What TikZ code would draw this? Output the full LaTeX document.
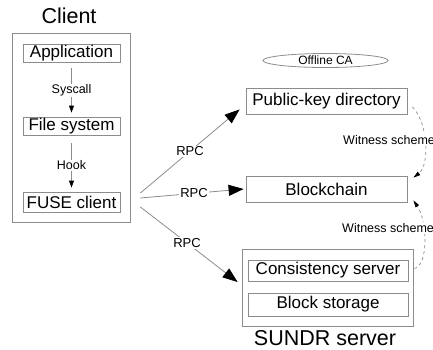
\documentclass[tikz,border=0pt]{standalone}
\usepackage{fontspec}
\setmainfont{Liberation Sans}
\usetikzlibrary{arrows.meta,shapes.geometric}
\definecolor{edge}{HTML}{8C8C8C}
\tikzset{
  box/.style={draw=edge, line width=0.8pt, inner sep=0pt, font=\fontsize{17}{19}\selectfont},
  title/.style={font=\fontsize{21.5}{24}\selectfont, inner sep=0pt},
  small/.style={font=\fontsize{12.5}{14}\selectfont, inner sep=1pt},
  lbl/.style={small, fill=white},
  flow/.style={draw=edge, line width=0.8pt, -{Triangle[length=7pt,width=5pt,color=black,fill=black]}},
  rpc/.style={draw=edge, line width=0.8pt, -{Triangle[length=15pt,width=11pt,color=black,fill=black]}},
  wit/.style={draw=edge, line width=0.7pt, dashed, -{Triangle[length=7pt,width=4pt,color=black,fill=black]}},
}
\begin{document}
\begin{tikzpicture}[x=1pt,y=-1pt]
\useasboundingbox (0,0) rectangle (433,349);
% Client side
\node[box, minimum width=118pt, minimum height=189pt] (client) at (71,127.5) {};
\node[title] (clientT) at (69,16) {Client};
\node[box, minimum width=97pt, minimum height=18pt] (app) at (71.5,53) {Application};
\node[box, minimum width=97pt, minimum height=18pt] (fs) at (71.5,126) {File system};
\node[box, minimum width=97pt, minimum height=20pt] (fuse) at (71.5,202) {FUSE client};
\draw[flow] ([yshift=-6pt]app.south) -- node[lbl]{Syscall} ([yshift=4pt]fs.north);
\draw[flow] ([yshift=-8pt]fs.south) -- node[lbl]{Hook} ([yshift=4pt]fuse.north);
% Server side
\node[draw=edge, line width=0.8pt, ellipse, minimum width=125pt, minimum height=14pt, inner sep=0pt, font=\fontsize{12}{13}\selectfont] (ca) at (325.5,60.5) {Offline CA};
\node[box, minimum width=161pt, minimum height=26pt] (pk) at (326.5,101) {Public-key directory};
\node[box, minimum width=161pt, minimum height=26pt] (bc) at (326.5,189) {Blockchain};
\node[box, minimum width=171pt, minimum height=77pt] (sundr) at (327.5,287.5) {};
\node[box, minimum width=160pt, minimum height=21pt] (cs) at (328,270.5) {Consistency server};
\node[box, minimum width=160pt, minimum height=23pt] (bs) at (328,304.5) {Block storage};
\node[title] (sundrT) at (325,338) {SUNDR server};
% RPC connectors
\draw[rpc] ([shift={(20pt,9pt)}]fuse.east) -- node[lbl, font=\fontsize{13}{14}\selectfont]{RPC} ([shift={(-6pt,5pt)}]pk.south west);
\draw[rpc] ([shift={(20pt,4pt)}]fuse.east) -- node[lbl, font=\fontsize{13}{14}\selectfont, pos=0.52]{RPC} ([shift={(-2pt,0pt)}]bc.west);
\draw[rpc] ([shift={(20pt,-5pt)}]fuse.east) -- node[lbl, font=\fontsize{13}{14}\selectfont, pos=0.48]{RPC} ([shift={(-4pt,5.5pt)}]sundr.west);
% Witness schemes
\coordinate (w1s) at ([xshift=5pt,yshift=-6pt]pk.east);
\coordinate (w1e) at ([shift={(6pt,-2pt)}]bc.north east);
\coordinate (w2s) at ([xshift=6pt,yshift=2pt]cs.east);
\coordinate (w2e) at ([shift={(6pt,2pt)}]bc.south east);
\draw[wit] (w1s) .. controls (428,122) and (430,165) .. (w1e);
\draw[wit] (w2s) .. controls (428,266) and (428,222) .. (w2e);
\node[lbl, anchor=west] (wt1) at (342,140) {Witness scheme};
\node[lbl, anchor=west] (wt2) at (341,228) {Witness scheme};
\end{tikzpicture}
\end{document}
